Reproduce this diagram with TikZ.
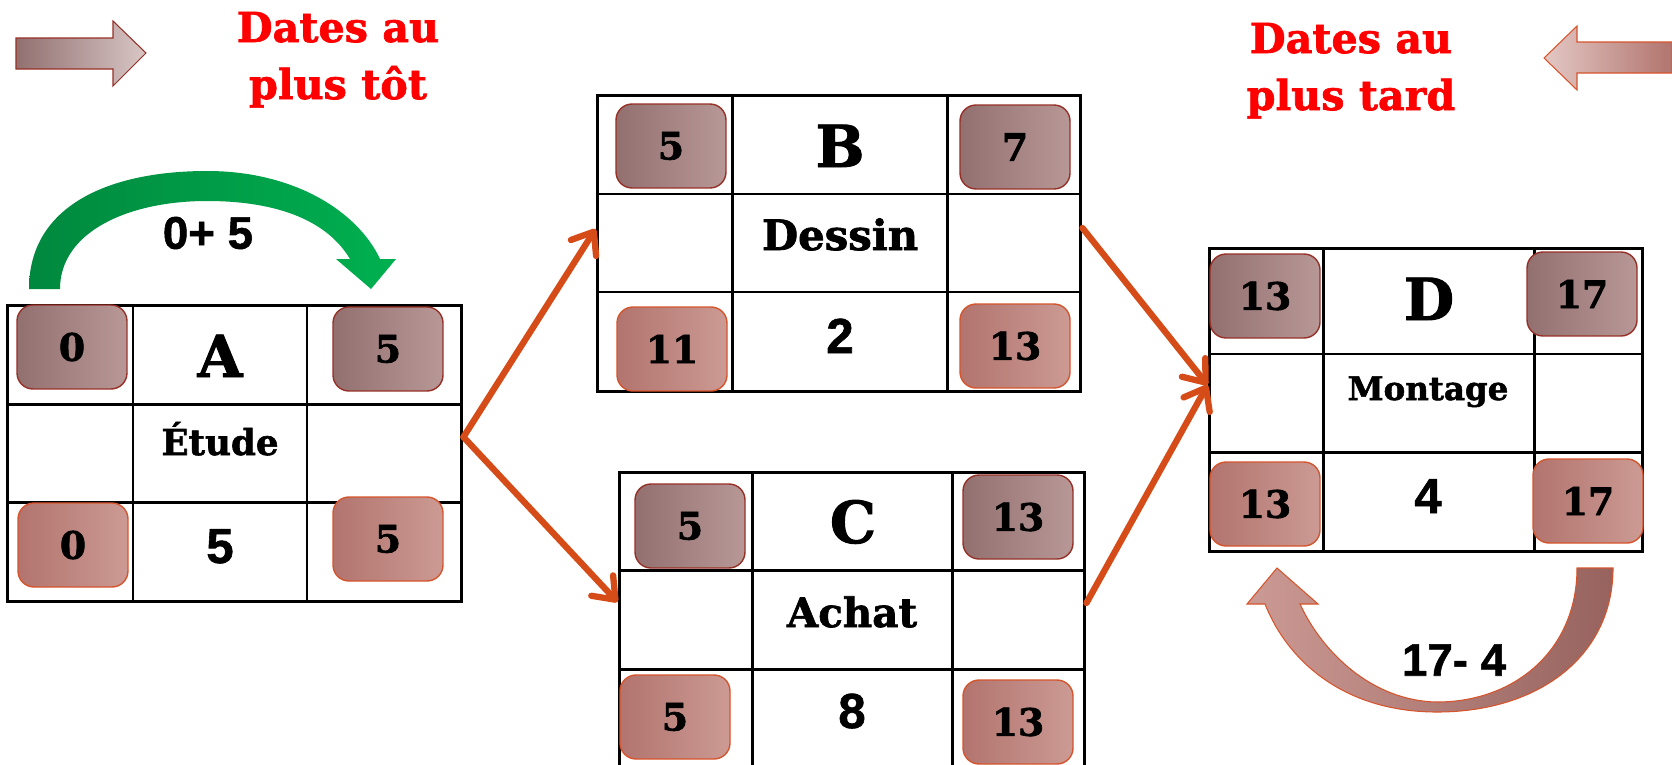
\documentclass[tikz,border=0pt]{standalone}
\usepackage{fontspec}
\setmainfont{DejaVu Serif}[BoldFeatures={FakeBold=1.6}]
\newfontfamily\chiffres{Liberation Sans}[BoldFeatures={FakeBold=1.2}]
\usetikzlibrary{arrows.meta}

\definecolor{orangefleche}{RGB}{214,76,24}
\definecolor{vertfleche}{RGB}{0,176,80}
\definecolor{vertfonce}{RGB}{0,136,62}
\definecolor{rougetitre}{RGB}{255,0,0}
\definecolor{mauvefonce}{RGB}{146,112,112}
\definecolor{mauveclair}{RGB}{184,152,150}
\definecolor{rosefonce}{RGB}{178,116,110}
\definecolor{roseclair}{RGB}{204,154,148}
\definecolor{bordsombre}{RGB}{150,48,38}
\definecolor{bordclair}{RGB}{214,84,44}

\tikzset{
	grille/.style={line width=1.7pt, black},
	cadre/.style={draw, line width=1.7pt, inner sep=0pt},
	pastille/.style={rounded corners=0.32cm, minimum width=2.2cm, minimum height=1.68cm, inner sep=0pt, line width=0.8pt, font=\fontsize{21.5}{21.5}\selectfont\bfseries},
	tot/.style={pastille, draw=bordsombre, left color=mauvefonce, right color=mauveclair},
	tard/.style={pastille, draw=bordclair, left color=rosefonce, right color=roseclair},
	lettre/.style={anchor=base, font=\fontsize{33}{33}\selectfont\bfseries},
	libelle/.style={anchor=base, font=\fontsize{#1}{#1}\selectfont\bfseries},
	duree/.style={anchor=base, font=\chiffres\fontsize{28}{28}\selectfont\bfseries},
	calcul/.style={font=\chiffres\fontsize{26}{26}\selectfont\bfseries},
	titre/.style={anchor=base, text=rougetitre, font=\fontsize{23.5}{23.5}\selectfont\bfseries},
	fleche/.style={orangefleche, line width=3.6pt, line cap=round, -{Straight Barb[round, length=11pt, width=17pt]}}
}

\begin{document}
\begin{tikzpicture}[x=0.02cm, y=-0.02cm]
	\clip (0,0) rectangle (1672,764);
	
	%%% Fleches et titres du haut
	\shadedraw[left color=mauvefonce, right color=white!45!mauveclair, draw=bordsombre, line width=0.6pt]
		(16,38) -- (113,38) -- (113,21) -- (146,53) -- (113,86) -- (113,69) -- (16,69) -- cycle;
	\shadedraw[left color=white!45!roseclair, right color=rosefonce, draw=bordclair, line width=0.6pt]
		(1672,42) -- (1577,42) -- (1577,26) -- (1544,58) -- (1577,90) -- (1577,73) -- (1672,73) -- cycle;
	\node[titre] (tot1) at (338,42) {Dates au};
	\node[titre] (tot2) at (338,99) {plus tôt};
	\node[titre] (tard1) at (1351,53) {Dates au};
	\node[titre] (tard2) at (1351,110) {plus tard};
	
	%%% Fleche verte (calcul au plus tot)
	\shade[left color=vertfonce, right color=vertfleche]
		(29,289) .. controls (29,205) and (110,171) .. (207,171)
		.. controls (295,171) and (358,212) .. (380,259) -- (396,259) -- (371,289) -- (336,259) -- (350,259)
		.. controls (328,222) and (280,201) .. (207,201)
		.. controls (128,201) and (60,232) .. (60,289) -- cycle;
	\node[calcul] (plus) at (208,233) {0+ 5};
	
	%%% Fleche de retour (calcul au plus tard)
	\shadedraw[left color=roseclair, right color=rosefonce!85!black, draw=bordclair, line width=0.6pt]
		(1577,568) -- (1613,568) .. controls (1613,655) and (1540,712) .. (1437,712)
		.. controls (1345,712) and (1288,662) .. (1265,604) -- (1247,604) -- (1277,568) -- (1318,604) -- (1300,604)
		.. controls (1322,652) and (1372,701) .. (1437,702)
		.. controls (1515,702) and (1577,650) .. (1577,568) -- cycle;
	\node[calcul] (moins) at (1454,660) {17- 4};
	
	%%% Tableau A
	\node[cadre, minimum width=9.1cm, minimum height=5.94cm] (A) at (234.5,453.5) {};
	\foreach \x in {133,307} \draw[grille] (\x,305) -- (\x,602);
	\foreach \y in {404,502} \draw[grille] (7,\y) -- (462,\y);
	\node[tot] (A-dtot) at (72,347) {0};
	\node[tot] (A-ftot) at (388,349) {5};
	\node[tard] (A-dtard) at (73,545) {0};
	\node[tard] (A-ftard) at (388,539) {5};
	\node[lettre] (A-nom) at (220,377) {A};
	\node[libelle=20.3] (A-lib) at (220,455) {Étude};
	\node[duree] (A-duree) at (220,563) {5};
	
	%%% Tableau B
	\node[cadre, minimum width=9.68cm, minimum height=5.94cm] (B) at (839,243.5) {};
	\foreach \x in {732,947} \draw[grille] (\x,95) -- (\x,392);
	\foreach \y in {194,292} \draw[grille] (597,\y) -- (1081,\y);
	\node[tot] (B-dtot) at (671,146) {5};
	\node[tot] (B-ftot) at (1015,147) {7};
	\node[tard] (B-dtard) at (672,349) {11};
	\node[tard] (B-ftard) at (1015,346) {13};
	\node[lettre] (B-nom) at (840,167) {B};
	\node[libelle=23.8] (B-lib) at (840,250) {Dessin};
	\node[duree] (B-duree) at (840,353) {2};
	
	%%% Tableau C
	\node[cadre, minimum width=9.32cm, minimum height=5.92cm] (C) at (852,620) {};
	\foreach \x in {752,952} \draw[grille] (\x,472) -- (\x,768);
	\foreach \y in {570,669} \draw[grille] (619,\y) -- (1085,\y);
	\node[tot] (C-dtot) at (690,526) {5};
	\node[tot] (C-ftot) at (1018,517) {13};
	\node[tard] (C-dtard) at (675,717) {5};
	\node[tard] (C-ftard) at (1018,722) {13};
	\node[lettre] (C-nom) at (853,543) {C};
	\node[libelle=23] (C-lib) at (852,627) {Achat};
	\node[duree] (C-duree) at (852,728) {8};
	
	%%% Tableau D
	\node[cadre, minimum width=8.68cm, minimum height=6.08cm] (D) at (1426,400) {};
	\foreach \x in {1323,1534} \draw[grille] (\x,248) -- (\x,552);
	\foreach \y in {354,452} \draw[grille] (1209,\y) -- (1643,\y);
	\node[tot] (D-dtot) at (1265,296) {13};
	\node[tot] (D-ftot) at (1582,294) {17};
	\node[tard] (D-dtard) at (1265,504) {13};
	\node[tard] (D-ftard) at (1588,501) {17};
	\node[lettre] (D-nom) at (1429,320) {D};
	\node[libelle=18.5] (D-lib) at (1428,400) {Montage};
	\node[duree] (D-duree) at (1428,513) {4};
	
	%%% Liaisons
	\draw[fleche] ([yshift=0.33cm]A.east) -- ([yshift=0.29cm]B.west);
	\draw[fleche] ([yshift=0.33cm]A.east) -- ([yshift=0.36cm]C.west);
	\draw[fleche] ([yshift=0.31cm]B.east) -- ([yshift=0.3cm]D.west);
	\draw[fleche] ([yshift=0.34cm]C.east) -- ([yshift=0.3cm]D.west);
\end{tikzpicture}
\end{document}
